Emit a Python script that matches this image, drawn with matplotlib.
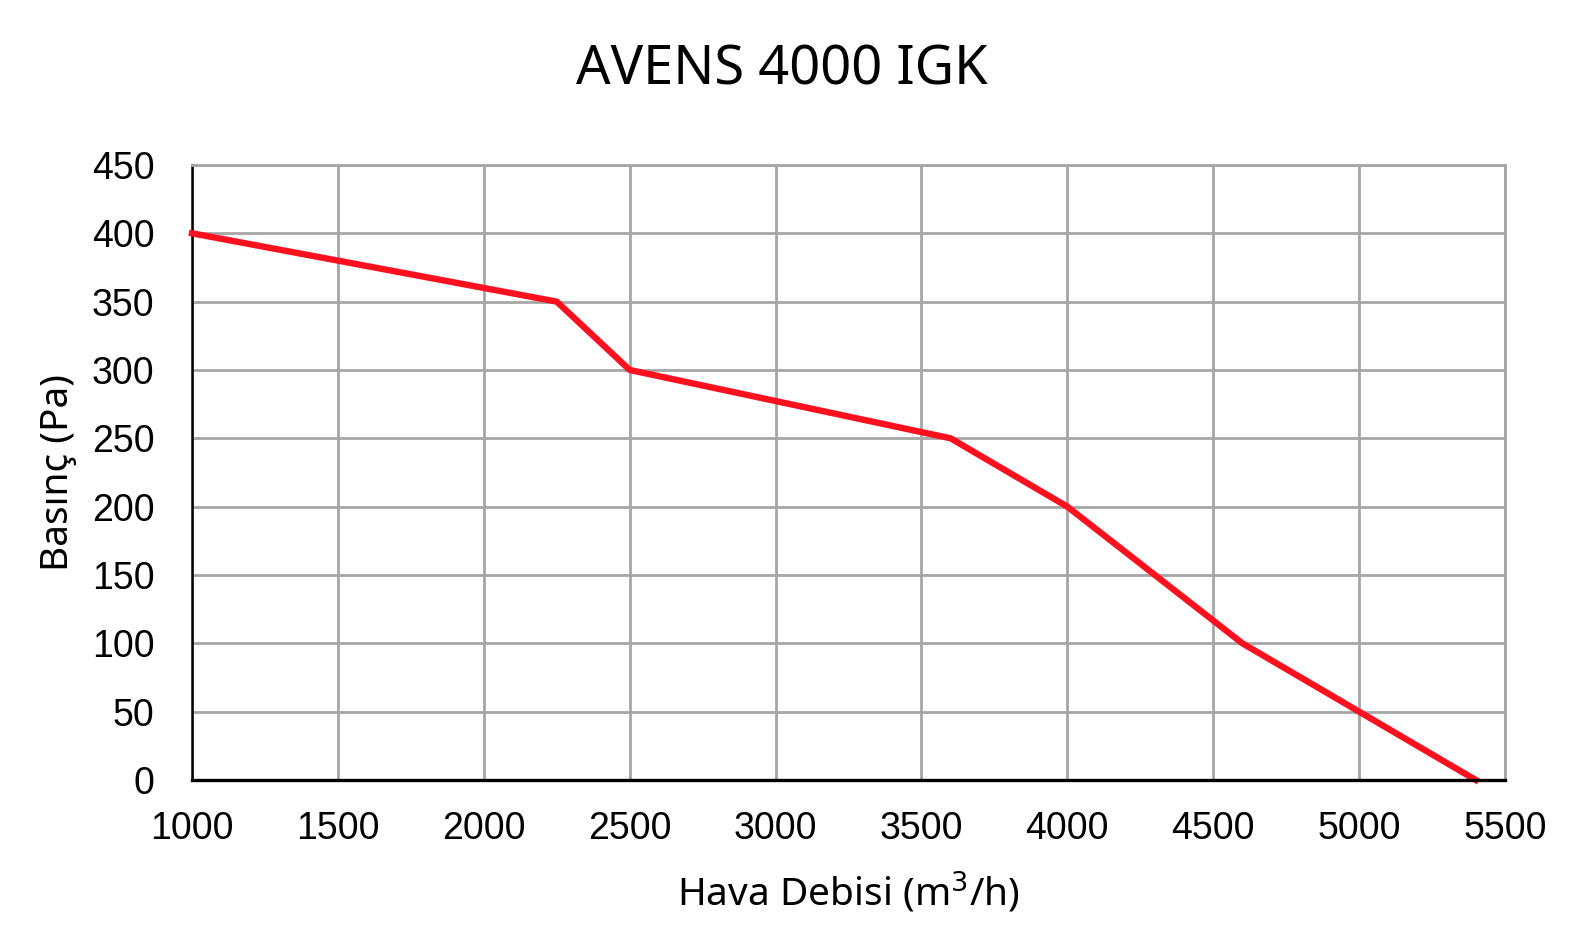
import matplotlib.pyplot as plt

# fan curve
flow = [1000, 2250, 2500, 3600, 4000, 4600, 5000, 5400]
pressure = [400, 350, 300, 250, 200, 100, 50, 0]

x_ticks = [1000, 1500, 2000, 2500, 3000, 3500, 4000, 4500, 5000, 5500]
y_ticks = [0, 50, 100, 150, 200, 250, 300, 350, 400, 450]

TITLE = "AVENS 4000 IGK"
XLABEL = "Hava Debisi (m$^3$/h)"
YLABEL = "Basınç (Pa)"

GRID = "#a6a6a6"
RED = "#ff101e"

fig = plt.figure(figsize=(15.82, 9.32), dpi=100)
ax = fig.add_axes([0.1214, 0.1631, 0.8299, 0.6599])

ax.plot(flow, pressure, color=RED, linewidth=4.6, solid_joinstyle="round",
        zorder=5, clip_on=False)

ax.set_xlim(1000, 5500)
ax.set_ylim(0, 450)
ax.set_xticks(x_ticks)
ax.set_yticks(y_ticks)
ax.grid(True, color=GRID, linewidth=2.0, zorder=0)
ax.set_axisbelow(True)

for side in ["top", "right"]:
    ax.spines[side].set_color(GRID)
    ax.spines[side].set_linewidth(2.0)
ax.spines["left"].set_color("black")
ax.spines["left"].set_linewidth(1.8)
ax.spines["bottom"].set_color("black")
ax.spines["bottom"].set_linewidth(2.4)
ax.spines["bottom"].set_zorder(6)

ax.tick_params(axis="both", length=0, labelsize=27,
               labelfontfamily="Liberation Sans")
ax.tick_params(axis="y", pad=27)
ax.tick_params(axis="x", pad=22)

fig.text(0.494, 0.925, TITLE, fontsize=39, family="Noto Sans",
         ha="center", va="center")
ax.set_xlabel(XLABEL, fontsize=28, family="Noto Sans", labelpad=16)
ax.set_ylabel(YLABEL, fontsize=28, family="Noto Sans", labelpad=11)

fig.savefig("out.png", dpi=100)
